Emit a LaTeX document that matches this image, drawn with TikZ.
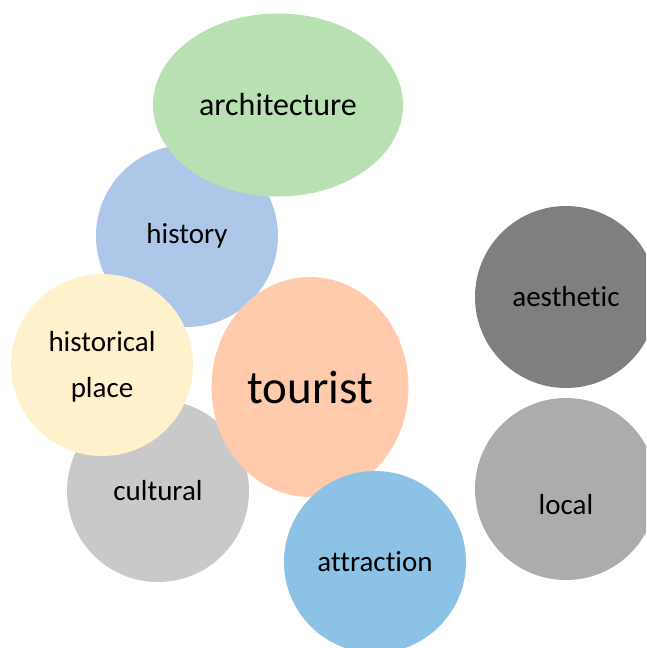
\documentclass[tikz,border=0pt]{standalone}
\usepackage{fontspec}
\setmainfont{Carlito}[Ligatures=NoCommon]
\usepackage{tikz}
\usetikzlibrary{shapes.geometric}
\definecolor{archgreen}{HTML}{B9E0B3}
\definecolor{histblue}{HTML}{AEC7E8}
\definecolor{placeyellow}{HTML}{FFF1CC}
\definecolor{tourpeach}{HTML}{FFCBAC}
\definecolor{cultgray}{HTML}{C9C9C9}
\definecolor{attrblue}{HTML}{8BC2E5}
\definecolor{aesgray}{HTML}{7F7F7F}
\definecolor{localgray}{HTML}{AEABAB}
\tikzset{bubble/.style={circle,minimum size=182pt,inner sep=0pt,
  font=\fontsize{29}{46}\selectfont,align=center}}
\tikzset{oval/.style={ellipse,inner sep=0pt,font=\fontsize{32}{38}\selectfont}}

\begin{document}
\begin{tikzpicture}[x=1pt,y=-1pt]
\clip (0,0) rectangle (646,648);
\node[bubble,fill=cultgray] (cultural) at (158,491) {cultural};
\node[bubble,fill=histblue] (history) at (187,236) {history};
\node[bubble,fill=placeyellow,label={[font=\fontsize{29}{46}\selectfont,align=center,yshift=-2pt]center:historical\\place}] (place) at (102,365) {};
\node[oval,fill=archgreen,minimum width=250pt,minimum height=183pt] (arch) at (278,105) {architecture};
\node[oval,fill=tourpeach,minimum width=197pt,minimum height=220pt,
  font=\fontsize{47}{56}\selectfont] (tourist) at (310,387) {tourist};
\node[bubble,fill=attrblue] (attraction) at (375,562) {attraction};
\node[bubble,fill=aesgray] (aesthetic) at (566,297) {aesthetic};
\node[bubble,fill=localgray,label={[font=\fontsize{29}{35}\selectfont,yshift=-16pt]center:local}] (local) at (566,489) {};
\end{tikzpicture}
\end{document}
